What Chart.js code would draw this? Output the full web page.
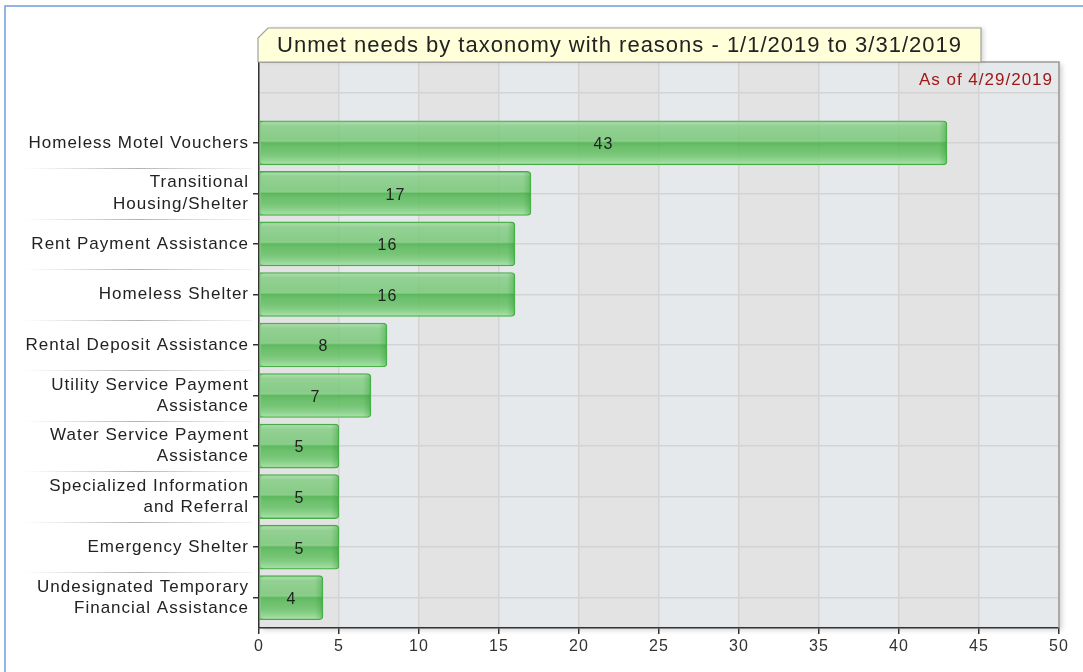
<!DOCTYPE html>
<html>
<head>
  <meta charset="UTF-8">
  <title>Unmet needs by taxonomy</title>
  <style>
    body {
      margin: 0;
      background: #fff;
    }
    #chart {
      display: block;
    }
  </style>
  <script src="https://cdn.jsdelivr.net/npm/chart.js"></script>
</head>
<body>
  <canvas id="chart" width="1083" height="672"></canvas>
  <script>
    const chartTitle = 'Unmet needs by taxonomy with reasons - 1/1/2019 to 3/31/2019';
    const asOfText = 'As of 4/29/2019';

    const categories = [
      'Homeless Motel Vouchers',
      ['Transitional', 'Housing/Shelter'],
      'Rent Payment Assistance',
      'Homeless Shelter',
      'Rental Deposit Assistance',
      ['Utility Service Payment', 'Assistance'],
      ['Water Service Payment', 'Assistance'],
      ['Specialized Information', 'and Referral'],
      'Emergency Shelter',
      ['Undesignated Temporary', 'Financial Assistance']
    ];
    const unmetCounts = [43, 17, 16, 16, 8, 7, 5, 5, 5, 4];
    const xTicks = [0, 5, 10, 15, 20, 25, 30, 35, 40, 45, 50];

    const FONT = '"Liberation Sans", Arial, sans-serif';

    // frame, title box, striped plot background
    const backdrop = {
      id: 'backdrop',
      beforeDraw(chart) {
        const ctx = chart.ctx;
        const area = chart.chartArea;
        const x = chart.scales.x;
        ctx.letterSpacing = '1px';

        ctx.save();
        ctx.strokeStyle = '#6f9fd8';
        ctx.lineWidth = 1.5;
        ctx.beginPath();
        ctx.moveTo(5, 672);
        ctx.lineTo(5, 6);
        ctx.lineTo(1083, 6);
        ctx.stroke();

        // plot shadow + stripes
        ctx.shadowColor = 'rgba(0,0,0,0.18)';
        ctx.shadowBlur = 5;
        ctx.shadowOffsetX = 3;
        ctx.shadowOffsetY = 2;
        ctx.fillStyle = '#e4e5e7';
        ctx.fillRect(area.left, area.top, area.width, area.height);
        ctx.shadowColor = 'transparent';
        for (let i = 0; i < xTicks.length - 1; i++) {
          const a = x.getPixelForValue(xTicks[i]);
          const b = x.getPixelForValue(xTicks[i + 1]);
          ctx.fillStyle = i % 2 === 0 ? '#e3e3e4' : '#e6e9ec';
          ctx.fillRect(a, area.top, b - a, area.height);
        }
        ctx.restore();
      },
      afterDraw(chart) {
        const ctx = chart.ctx;
        const area = chart.chartArea;
        const y = chart.scales.y;
        ctx.save();

        // plot border top/right
        ctx.strokeStyle = '#9a9a9a';
        ctx.lineWidth = 1.5;
        ctx.beginPath();
        ctx.moveTo(area.left, area.top);
        ctx.lineTo(area.right, area.top);
        ctx.lineTo(area.right, area.bottom);
        ctx.stroke();

        // title box with cut corner
        const L = area.left - 1, R = 981, T = 28, B = area.top;
        ctx.shadowColor = 'rgba(0,0,0,0.15)';
        ctx.shadowBlur = 4;
        ctx.shadowOffsetX = 3;
        ctx.beginPath();
        ctx.moveTo(L, B);
        ctx.lineTo(L, T + 10);
        ctx.lineTo(L + 10, T);
        ctx.lineTo(R, T);
        ctx.lineTo(R, B);
        ctx.closePath();
        ctx.fillStyle = '#ffffd9';
        ctx.fill();
        ctx.shadowColor = 'transparent';
        ctx.strokeStyle = '#a0a0a0';
        ctx.lineWidth = 1.2;
        ctx.stroke();
        ctx.fillStyle = '#222';
        ctx.font = '22px ' + FONT;
        ctx.textAlign = 'center';
        ctx.textBaseline = 'middle';
        ctx.fillText(chartTitle, (L + R) / 2, (T + B) / 2 + 1);

        ctx.fillStyle = '#a01818';
        ctx.font = '17px ' + FONT;
        ctx.textAlign = 'right';
        ctx.fillText(asOfText, area.right - 6, area.top + 18);

        // separators between the category labels
        for (let i = 0; i < categories.length - 1; i++) {
          const py = Math.round(y.getPixelForValue(i + 0.5)) + 0.5;
          const g = ctx.createLinearGradient(22, 0, 252, 0);
          g.addColorStop(0, 'rgba(190,190,190,0)');
          g.addColorStop(0.5, 'rgba(170,170,170,0.9)');
          g.addColorStop(1, 'rgba(200,200,200,0.2)');
          ctx.strokeStyle = g;
          ctx.lineWidth = 1;
          ctx.beginPath();
          ctx.moveTo(22, py);
          ctx.lineTo(252, py);
          ctx.stroke();
        }
        ctx.restore();
      }
    };

    // glossy overlay and value labels on the bars
    const barGloss = {
      id: 'barGloss',
      afterDatasetsDraw(chart) {
        const ctx = chart.ctx;
        const meta = chart.getDatasetMeta(0);
        meta.data.forEach((bar, i) => {
          const p = bar.getProps(['x', 'y', 'base', 'height'], true);
          const left = Math.min(p.base, p.x), right = Math.max(p.base, p.x);
          const top = p.y - p.height / 2, bottom = p.y + p.height / 2;
          ctx.save();
          ctx.beginPath();
          ctx.roundRect(left + 1, top + 1, right - left - 2, bottom - top - 2, 3);
          ctx.clip();
          const g = ctx.createLinearGradient(0, top, 0, bottom);
          g.addColorStop(0, 'rgba(255,255,255,0.4)');
          g.addColorStop(0.12, 'rgba(255,255,255,0.12)');
          g.addColorStop(0.42, 'rgba(255,255,255,0.04)');
          g.addColorStop(0.5, 'rgba(40,160,40,0.4)');
          g.addColorStop(0.62, 'rgba(50,165,50,0.25)');
          g.addColorStop(1, 'rgba(205,245,205,0.6)');
          ctx.fillStyle = g;
          ctx.fillRect(left, top, right - left, bottom - top);
          const h = ctx.createLinearGradient(right - 8, 0, right, 0);
          h.addColorStop(0, 'rgba(30,150,30,0)');
          h.addColorStop(1, 'rgba(30,150,30,0.35)');
          ctx.fillStyle = h;
          ctx.fillRect(right - 8, top, 8, bottom - top);
          ctx.restore();

          ctx.save();
          ctx.fillStyle = '#222';
          ctx.font = '16px ' + FONT;
          ctx.textAlign = 'center';
          ctx.textBaseline = 'middle';
          ctx.fillText(String(unmetCounts[i]), (left + right) / 2, p.y + 2);
          ctx.restore();
        });
      }
    };

    new Chart(document.getElementById('chart'), {
      type: 'bar',
      data: {
        datasets: [{
          data: unmetCounts.map((v, i) => ({ x: v, y: i })),
          backgroundColor: 'rgba(110,196,110,0.82)',
          borderColor: '#44ae44',
          borderWidth: 1.2,
          borderRadius: 4,
          borderSkipped: 'start',
          barThickness: 44
        }]
      },
      options: {
        indexAxis: 'y',
        responsive: false,
        animation: false,
        layout: { padding: { top: 62, right: 24, left: 0, bottom: 0 } },
        plugins: {
          legend: { display: false },
          title: { display: false },
          tooltip: { enabled: false }
        },
        scales: {
          x: {
            type: 'linear',
            min: 0,
            max: 50,
            afterBuildTicks: (axis) => { axis.ticks = xTicks.map(v => ({ value: v })); },
            afterFit: (axis) => { axis.height = 44; },
            border: { color: '#333', width: 1.5 },
            grid: { color: '#d3d3d3', lineWidth: 1.5, tickColor: '#333', tickLength: 6 },
            ticks: { color: '#333', padding: 3, font: { family: FONT, size: 16 } }
          },
          y: {
            type: 'linear',
            reverse: true,
            offset: false,
            min: -1.6,
            max: 9.6,
            afterBuildTicks: (axis) => {
              axis.ticks = [-1].concat(categories.map((c, i) => i)).map(v => ({ value: v }));
            },
            afterFit: (axis) => { axis.width = 259; },
            border: { color: '#333', width: 1.5 },
            grid: {
              offset: false,
              color: '#d3d3d3',
              lineWidth: 1.5,
              tickLength: 6,
              tickColor: (c) => (c.tick && c.tick.value >= 0 ? '#333' : 'rgba(0,0,0,0)')
            },
            ticks: {
              color: '#222',
              padding: 4,
              font: { family: FONT, size: 17, lineHeight: 1.25 },
              callback: (v) => categories[v] || ''
            }
          }
        }
      },
      plugins: [backdrop, barGloss]
    });
  </script>
</body>
</html>
